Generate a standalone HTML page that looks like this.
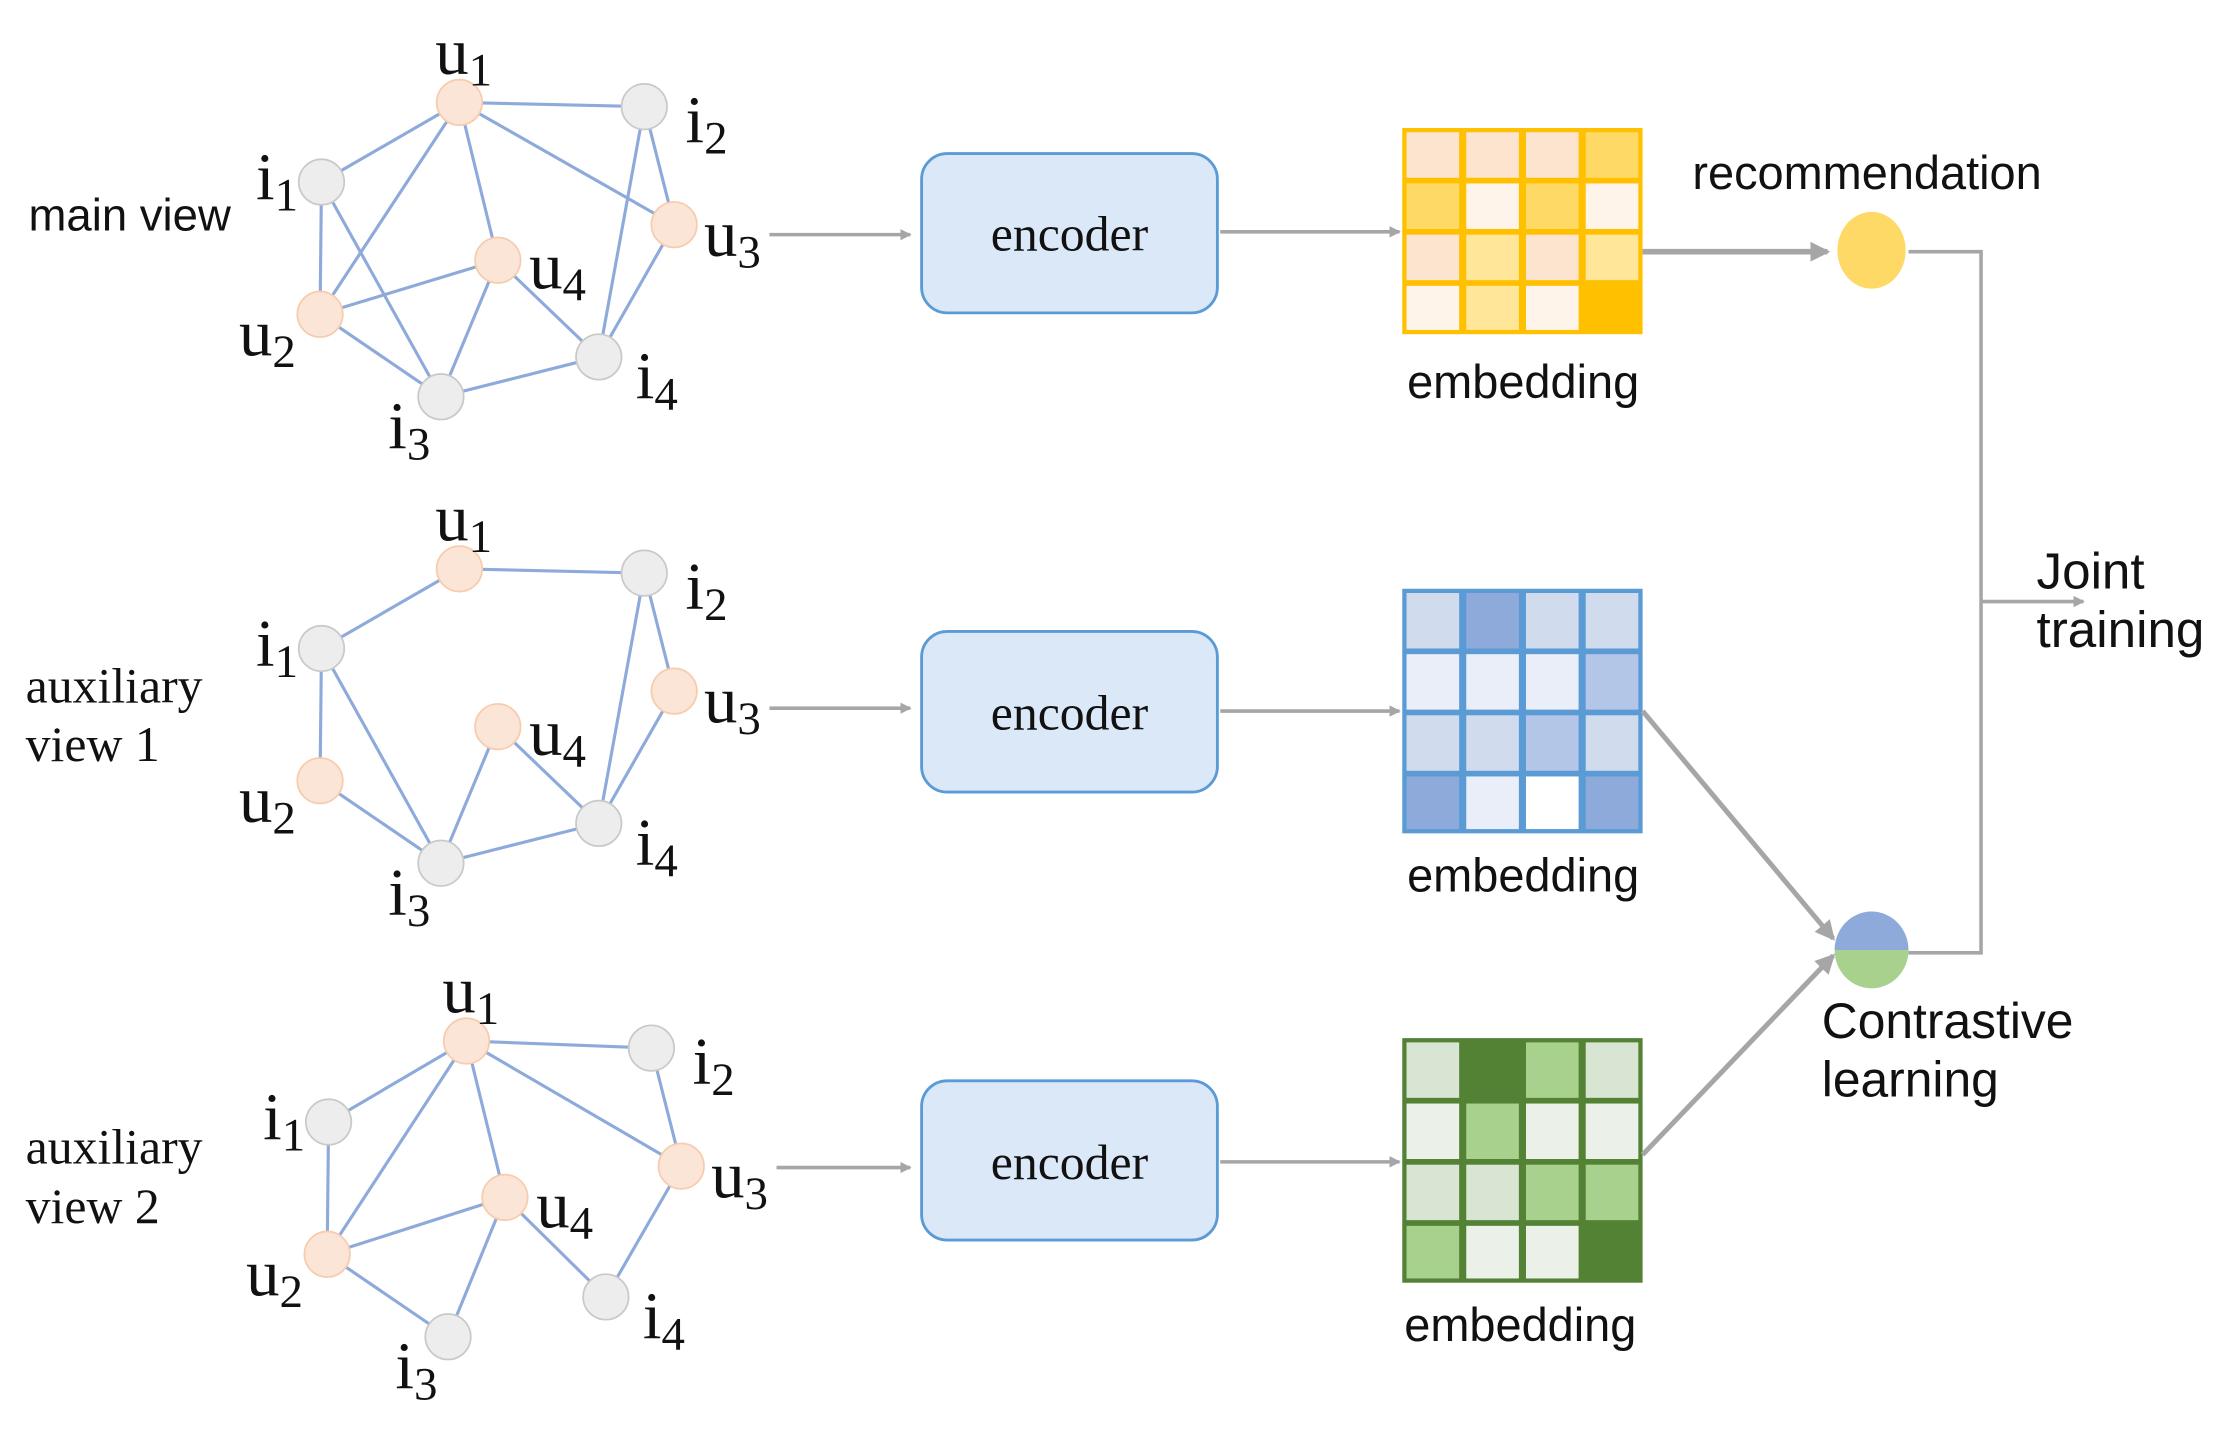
<!DOCTYPE html>
<html><head><meta charset="utf-8"><style>html,body{margin:0;padding:0;background:#fff}svg{display:block}</style></head>
<body>
<svg width="2230" height="1442" viewBox="0 0 1568 1014" xmlns="http://www.w3.org/2000/svg">
<defs>
<marker id="ah" markerWidth="8" markerHeight="8" refX="7" refY="4" orient="auto" markerUnits="userSpaceOnUse"><path d="M0,0 L8,4 L0,8 z" fill="#a6a6a6"/></marker>
<marker id="ahb" markerWidth="14" markerHeight="14" refX="12" refY="7" orient="auto" markerUnits="userSpaceOnUse"><path d="M0,0 L14,7 L0,14 z" fill="#a6a6a6"/></marker>
</defs>
<rect width="1568" height="1014" fill="#fff"/>

<!-- Graph 1 -->
<g stroke="#8eaadb" stroke-width="2.2">
<line x1="323" y1="72" x2="453" y2="75"/><line x1="323" y1="72" x2="226" y2="128"/><line x1="323" y1="72" x2="225" y2="221"/><line x1="323" y1="72" x2="350" y2="183"/><line x1="323" y1="72" x2="474" y2="158"/>
<line x1="453" y1="75" x2="421" y2="251"/><line x1="453" y1="75" x2="474" y2="158"/><line x1="226" y1="128" x2="225" y2="221"/><line x1="226" y1="128" x2="310" y2="279"/>
<line x1="225" y1="221" x2="350" y2="183"/><line x1="225" y1="221" x2="310" y2="279"/><line x1="350" y1="183" x2="310" y2="279"/><line x1="350" y1="183" x2="421" y2="251"/><line x1="474" y1="158" x2="421" y2="251"/><line x1="310" y1="279" x2="421" y2="251"/>
</g>
<g stroke-width="1.2">
<circle cx="323" cy="72" r="16" fill="#fbe5d6" stroke="#f8cbad"/><circle cx="453" cy="75" r="16" fill="#ededed" stroke="#c9c9c9"/><circle cx="226" cy="128" r="16" fill="#ededed" stroke="#c9c9c9"/><circle cx="474" cy="158" r="16" fill="#fbe5d6" stroke="#f8cbad"/>
<circle cx="350" cy="183" r="16" fill="#fbe5d6" stroke="#f8cbad"/><circle cx="225" cy="221" r="16" fill="#fbe5d6" stroke="#f8cbad"/><circle cx="421" cy="251" r="16" fill="#ededed" stroke="#c9c9c9"/><circle cx="310" cy="279" r="16" fill="#ededed" stroke="#c9c9c9"/>
</g>
<g font-family="Liberation Serif, serif" font-size="47" fill="#111">
<text x="306" y="52">u<tspan font-size="33" dy="8">1</tspan></text>
<text x="482" y="100">i<tspan font-size="33" dy="8">2</tspan></text>
<text x="180" y="140">i<tspan font-size="33" dy="8">1</tspan></text>
<text x="495" y="180">u<tspan font-size="33" dy="8">3</tspan></text>
<text x="372" y="203">u<tspan font-size="33" dy="8">4</tspan></text>
<text x="168" y="250">u<tspan font-size="33" dy="8">2</tspan></text>
<text x="447" y="280">i<tspan font-size="33" dy="8">4</tspan></text>
<text x="273" y="315">i<tspan font-size="33" dy="8">3</tspan></text>
</g>

<!-- Graph 2 -->
<g transform="translate(0,328)">
<g stroke="#8eaadb" stroke-width="2.2">
<line x1="323" y1="72" x2="453" y2="75"/><line x1="323" y1="72" x2="226" y2="128"/>
<line x1="453" y1="75" x2="421" y2="251"/><line x1="453" y1="75" x2="474" y2="158"/><line x1="226" y1="128" x2="225" y2="221"/><line x1="226" y1="128" x2="310" y2="279"/>
<line x1="225" y1="221" x2="310" y2="279"/>
<line x1="350" y1="183" x2="310" y2="279"/><line x1="350" y1="183" x2="421" y2="251"/><line x1="474" y1="158" x2="421" y2="251"/><line x1="310" y1="279" x2="421" y2="251"/>
</g>
<g stroke-width="1.2">
<circle cx="323" cy="72" r="16" fill="#fbe5d6" stroke="#f8cbad"/><circle cx="453" cy="75" r="16" fill="#ededed" stroke="#c9c9c9"/><circle cx="226" cy="128" r="16" fill="#ededed" stroke="#c9c9c9"/><circle cx="474" cy="158" r="16" fill="#fbe5d6" stroke="#f8cbad"/>
<circle cx="350" cy="183" r="16" fill="#fbe5d6" stroke="#f8cbad"/><circle cx="225" cy="221" r="16" fill="#fbe5d6" stroke="#f8cbad"/><circle cx="421" cy="251" r="16" fill="#ededed" stroke="#c9c9c9"/><circle cx="310" cy="279" r="16" fill="#ededed" stroke="#c9c9c9"/>
</g>
<g font-family="Liberation Serif, serif" font-size="47" fill="#111">
<text x="306" y="52">u<tspan font-size="33" dy="8">1</tspan></text>
<text x="482" y="100">i<tspan font-size="33" dy="8">2</tspan></text>
<text x="180" y="140">i<tspan font-size="33" dy="8">1</tspan></text>
<text x="495" y="180">u<tspan font-size="33" dy="8">3</tspan></text>
<text x="372" y="203">u<tspan font-size="33" dy="8">4</tspan></text>
<text x="168" y="250">u<tspan font-size="33" dy="8">2</tspan></text>
<text x="447" y="280">i<tspan font-size="33" dy="8">4</tspan></text>
<text x="273" y="315">i<tspan font-size="33" dy="8">3</tspan></text>
</g>
</g>

<!-- Graph 3 -->
<g transform="translate(5,660)">
<g stroke="#8eaadb" stroke-width="2.2">
<line x1="323" y1="72" x2="453" y2="77"/><line x1="323" y1="72" x2="226" y2="129"/><line x1="323" y1="72" x2="225" y2="222"/><line x1="323" y1="72" x2="350" y2="182"/><line x1="323" y1="72" x2="474" y2="160"/>
<line x1="453" y1="77" x2="474" y2="160"/>
<line x1="226" y1="129" x2="225" y2="222"/>
<line x1="225" y1="222" x2="350" y2="182"/><line x1="225" y1="222" x2="310" y2="280"/><line x1="350" y1="182" x2="310" y2="280"/><line x1="350" y1="182" x2="421" y2="252"/><line x1="474" y1="160" x2="421" y2="252"/>
</g>
<g stroke-width="1.2">
<circle cx="323" cy="72" r="16" fill="#fbe5d6" stroke="#f8cbad"/><circle cx="453" cy="77" r="16" fill="#ededed" stroke="#c9c9c9"/><circle cx="226" cy="129" r="16" fill="#ededed" stroke="#c9c9c9"/><circle cx="474" cy="160" r="16" fill="#fbe5d6" stroke="#f8cbad"/>
<circle cx="350" cy="182" r="16" fill="#fbe5d6" stroke="#f8cbad"/><circle cx="225" cy="222" r="16" fill="#fbe5d6" stroke="#f8cbad"/><circle cx="421" cy="252" r="16" fill="#ededed" stroke="#c9c9c9"/><circle cx="310" cy="280" r="16" fill="#ededed" stroke="#c9c9c9"/>
</g>
<g font-family="Liberation Serif, serif" font-size="47" fill="#111">
<text x="306" y="52">u<tspan font-size="33" dy="8">1</tspan></text>
<text x="482" y="102">i<tspan font-size="33" dy="8">2</tspan></text>
<text x="180" y="141">i<tspan font-size="33" dy="8">1</tspan></text>
<text x="495" y="182">u<tspan font-size="33" dy="8">3</tspan></text>
<text x="372" y="203">u<tspan font-size="33" dy="8">4</tspan></text>
<text x="168" y="251">u<tspan font-size="33" dy="8">2</tspan></text>
<text x="447" y="281">i<tspan font-size="33" dy="8">4</tspan></text>
<text x="273" y="316">i<tspan font-size="33" dy="8">3</tspan></text>
</g>
</g>

<!-- left labels -->
<text x="20" y="162" font-family="Liberation Sans, sans-serif" font-size="32" fill="#111">main view</text>
<g font-family="Liberation Serif, serif" font-size="35" fill="#111">
<text x="18" y="494">auxiliary</text><text x="18" y="535">view 1</text>
<text x="18" y="818">auxiliary</text><text x="18" y="860">view 2</text>
</g>

<!-- arrows to encoders -->
<g stroke="#a6a6a6" stroke-width="2.5" fill="none">
<line x1="541" y1="165" x2="640" y2="165" marker-end="url(#ah)"/>
<line x1="541" y1="498" x2="640" y2="498" marker-end="url(#ah)"/>
<line x1="546" y1="821" x2="640" y2="821" marker-end="url(#ah)"/>
<line x1="858" y1="163" x2="984" y2="163" marker-end="url(#ah)"/>
<line x1="858" y1="500" x2="984" y2="500" marker-end="url(#ah)"/>
<line x1="858" y1="817" x2="984" y2="817" marker-end="url(#ah)"/>
</g>

<!-- encoders -->
<g fill="#dae8f8" stroke="#5b9bd5" stroke-width="2">
<rect x="648" y="108" width="208" height="112" rx="18"/>
<rect x="648" y="444" width="208" height="113" rx="18"/>
<rect x="648" y="760" width="208" height="112" rx="18"/>
</g>
<g font-family="Liberation Serif, serif" font-size="35" fill="#111" text-anchor="middle">
<text x="752" y="176">encoder</text><text x="752" y="513">encoder</text><text x="752" y="829">encoder</text>
</g>

<!-- yellow matrix -->
<g transform="translate(986,90)">
<rect width="169" height="145" fill="#ffc000"/>
<rect x="3" y="3" width="37" height="32" fill="#fde4cf"/><rect x="45" y="3" width="37" height="32" fill="#fde4cf"/><rect x="87" y="3" width="37" height="32" fill="#fde4cf"/><rect x="129" y="3" width="37" height="32" fill="#ffd966"/>
<rect x="3" y="39" width="37" height="32" fill="#ffd966"/><rect x="45" y="39" width="37" height="32" fill="#fff4ea"/><rect x="87" y="39" width="37" height="32" fill="#ffd966"/><rect x="129" y="39" width="37" height="32" fill="#fff4ea"/>
<rect x="3" y="75" width="37" height="32" fill="#fde4cf"/><rect x="45" y="75" width="37" height="32" fill="#ffe699"/><rect x="87" y="75" width="37" height="32" fill="#fde4cf"/><rect x="129" y="75" width="37" height="32" fill="#ffe699"/>
<rect x="3" y="111" width="37" height="31" fill="#fff4ea"/><rect x="45" y="111" width="37" height="31" fill="#ffe699"/><rect x="87" y="111" width="37" height="31" fill="#fff4ea"/><rect x="129" y="111" width="37" height="31" fill="#ffc000"/>
</g>

<!-- blue matrix -->
<g transform="translate(986,414)">
<rect width="169" height="172" fill="#5b9bd5"/>
<rect x="3" y="3" width="37" height="39" fill="#d0dcee"/><rect x="45" y="3" width="37" height="39" fill="#8eaadb"/><rect x="87" y="3" width="37" height="39" fill="#d0dcee"/><rect x="129" y="3" width="37" height="39" fill="#d0dcee"/>
<rect x="3" y="46" width="37" height="39" fill="#e9eef8"/><rect x="45" y="46" width="37" height="39" fill="#e9eef8"/><rect x="87" y="46" width="37" height="39" fill="#e9eef8"/><rect x="129" y="46" width="37" height="39" fill="#b4c6e7"/>
<rect x="3" y="89" width="37" height="39" fill="#d0dcee"/><rect x="45" y="89" width="37" height="39" fill="#d0dcee"/><rect x="87" y="89" width="37" height="39" fill="#b4c6e7"/><rect x="129" y="89" width="37" height="39" fill="#d0dcee"/>
<rect x="3" y="132" width="37" height="37" fill="#8eaadb"/><rect x="45" y="132" width="37" height="37" fill="#e9eef8"/><rect x="87" y="132" width="37" height="37" fill="#ffffff"/><rect x="129" y="132" width="37" height="37" fill="#8eaadb"/>
</g>

<!-- green matrix -->
<g transform="translate(986,730)">
<rect width="169" height="172" fill="#548235"/>
<rect x="3" y="3" width="37" height="39" fill="#d9e5d3"/><rect x="45" y="3" width="37" height="39" fill="#548235"/><rect x="87" y="3" width="37" height="39" fill="#a9d18e"/><rect x="129" y="3" width="37" height="39" fill="#d9e5d3"/>
<rect x="3" y="46" width="37" height="39" fill="#ebf1e8"/><rect x="45" y="46" width="37" height="39" fill="#a9d18e"/><rect x="87" y="46" width="37" height="39" fill="#ebf1e8"/><rect x="129" y="46" width="37" height="39" fill="#ebf1e8"/>
<rect x="3" y="89" width="37" height="39" fill="#d9e5d3"/><rect x="45" y="89" width="37" height="39" fill="#d9e5d3"/><rect x="87" y="89" width="37" height="39" fill="#a9d18e"/><rect x="129" y="89" width="37" height="39" fill="#a9d18e"/>
<rect x="3" y="132" width="37" height="37" fill="#a9d18e"/><rect x="45" y="132" width="37" height="37" fill="#ebf1e8"/><rect x="87" y="132" width="37" height="37" fill="#ebf1e8"/><rect x="129" y="132" width="37" height="37" fill="#548235"/>
</g>

<g font-family="Liberation Sans, sans-serif" font-size="33" fill="#111">
<text x="1071" y="280" text-anchor="middle">embedding</text>
<text x="1071" y="627" text-anchor="middle">embedding</text>
<text x="1069" y="943" text-anchor="middle">embedding</text>
<text x="1190" y="133">recommendation</text>
<text x="1281" y="730" font-size="35">Contrastive</text>
<text x="1281" y="771" font-size="35">learning</text>
<text x="1432" y="414" font-size="36">Joint</text>
<text x="1432" y="455" font-size="36">training</text>
</g>

<!-- right connectors -->
<g stroke="#a6a6a6" fill="none">
<line x1="1155" y1="177" x2="1285" y2="177" stroke-width="4" marker-end="url(#ahb)"/>
<polyline points="1342,177 1393,177 1393,670 1342,670" stroke-width="2.5"/>
<line x1="1393" y1="423" x2="1465" y2="423" stroke-width="2.5" marker-end="url(#ah)"/>
<line x1="1155" y1="500" x2="1289" y2="660" stroke-width="3.5" marker-end="url(#ahb)"/>
<line x1="1155" y1="812" x2="1289" y2="672" stroke-width="3.5" marker-end="url(#ahb)"/>
</g>
<ellipse cx="1316" cy="176" rx="24" ry="27" fill="#ffd966"/>
<path d="M1290,668 A26,27 0 0 1 1342,668 Z" fill="#8eaadb"/>
<path d="M1290,668 A26,27 0 0 0 1342,668 Z" fill="#a9d18e"/>
</svg>
</body></html>
